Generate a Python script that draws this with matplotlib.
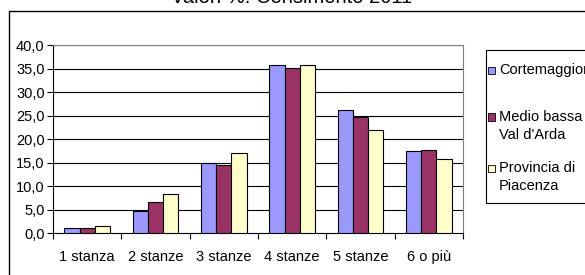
import matplotlib
matplotlib.use("Agg")
import matplotlib.pyplot as plt
from matplotlib.patches import Rectangle
import numpy as np

plt.rcParams['font.family'] = ['Liberation Sans', 'DejaVu Sans']

categories = ["1 stanza", "2 stanze", "3 stanze", "4 stanze", "5 stanze", "6 o più"]
series_names = ["Cortemaggiore", "Medio bassa\nVal d'Arda", "Provincia di\nPiacenza"]
cortemaggiore = [1.1, 4.8, 14.9, 35.8, 26.2, 17.5]
medio_bassa = [1.1, 6.7, 14.6, 35.2, 24.8, 17.7]
provincia = [1.5, 8.3, 17.0, 35.8, 21.9, 15.7]
colors = ["#9999FF", "#993366", "#FFFFCC"]
yticks = [0, 5, 10, 15, 20, 25, 30, 35, 40]
title = "Valori %. Censimento 2011"

W, H = 585, 275
FS = 10.5
fig = plt.figure(figsize=(W / 100, H / 100), dpi=100)

# outer chart frame
fig.patches.append(Rectangle((9 / W, -0.1), 1.2, 1 - 11 / H + 0.1, transform=fig.transFigure,
                             fill=False, edgecolor="black", linewidth=1.0))
fig.text(292 / W, 1 - 3 / H, title, ha="center", va="baseline", fontsize=14.5)

ax = fig.add_axes([53 / W, 1 - 233.3 / H, (463 - 53) / W, (233.3 - 45) / H])
x = np.arange(len(categories))
w = 0.222
for i, (vals, c) in enumerate(zip([cortemaggiore, medio_bassa, provincia], colors)):
    ax.bar(x + (i - 1) * w, vals, width=w, color=c, edgecolor="black", linewidth=0.8, zorder=3)

ax.set_xlim(-0.5, len(categories) - 0.5)
ax.set_ylim(0, 40)
ax.set_yticks(yticks)
ax.set_yticklabels([f"{v:.1f}".replace(".", ",") for v in yticks], fontsize=FS)
for v in yticks[1:]:
    ax.axhline(v, color="black", linewidth=0.8, zorder=1)
ax.set_xticks(np.arange(len(categories) + 1) - 0.5)
ax.set_xticklabels([])
ax.set_xticks(x, minor=True)
ax.set_xticklabels(categories, minor=True, fontsize=FS)
ax.tick_params(axis="x", which="minor", length=0, pad=12)
ax.tick_params(axis="x", which="major", length=4, direction="out")
ax.tick_params(axis="y", length=4, direction="out", pad=2)
for s in ["top", "right"]:
    ax.spines[s].set_color("#808080")
for s in ["left", "bottom"]:
    ax.spines[s].set_color("black")

# legend box
fig.patches.append(Rectangle((486 / W, 1 - 203 / H), 0.5, (203 - 50) / H, transform=fig.transFigure,
                             fill=False, edgecolor="black", linewidth=0.8))
entries_y = [70, 117, 168]
line_gap = 18
for name, c, yy in zip(series_names, colors, entries_y):
    fig.patches.append(Rectangle((488 / W, 1 - (yy + 3.5) / H), 7 / W, 7 / H, transform=fig.transFigure,
                                 facecolor=c, edgecolor="black", linewidth=0.6))
    for k, line in enumerate(name.split("\n")):
        fig.text(499 / W, 1 - (yy + k * line_gap) / H, line, ha="left", va="center", fontsize=FS)

fig.savefig("out.png", dpi=100)
